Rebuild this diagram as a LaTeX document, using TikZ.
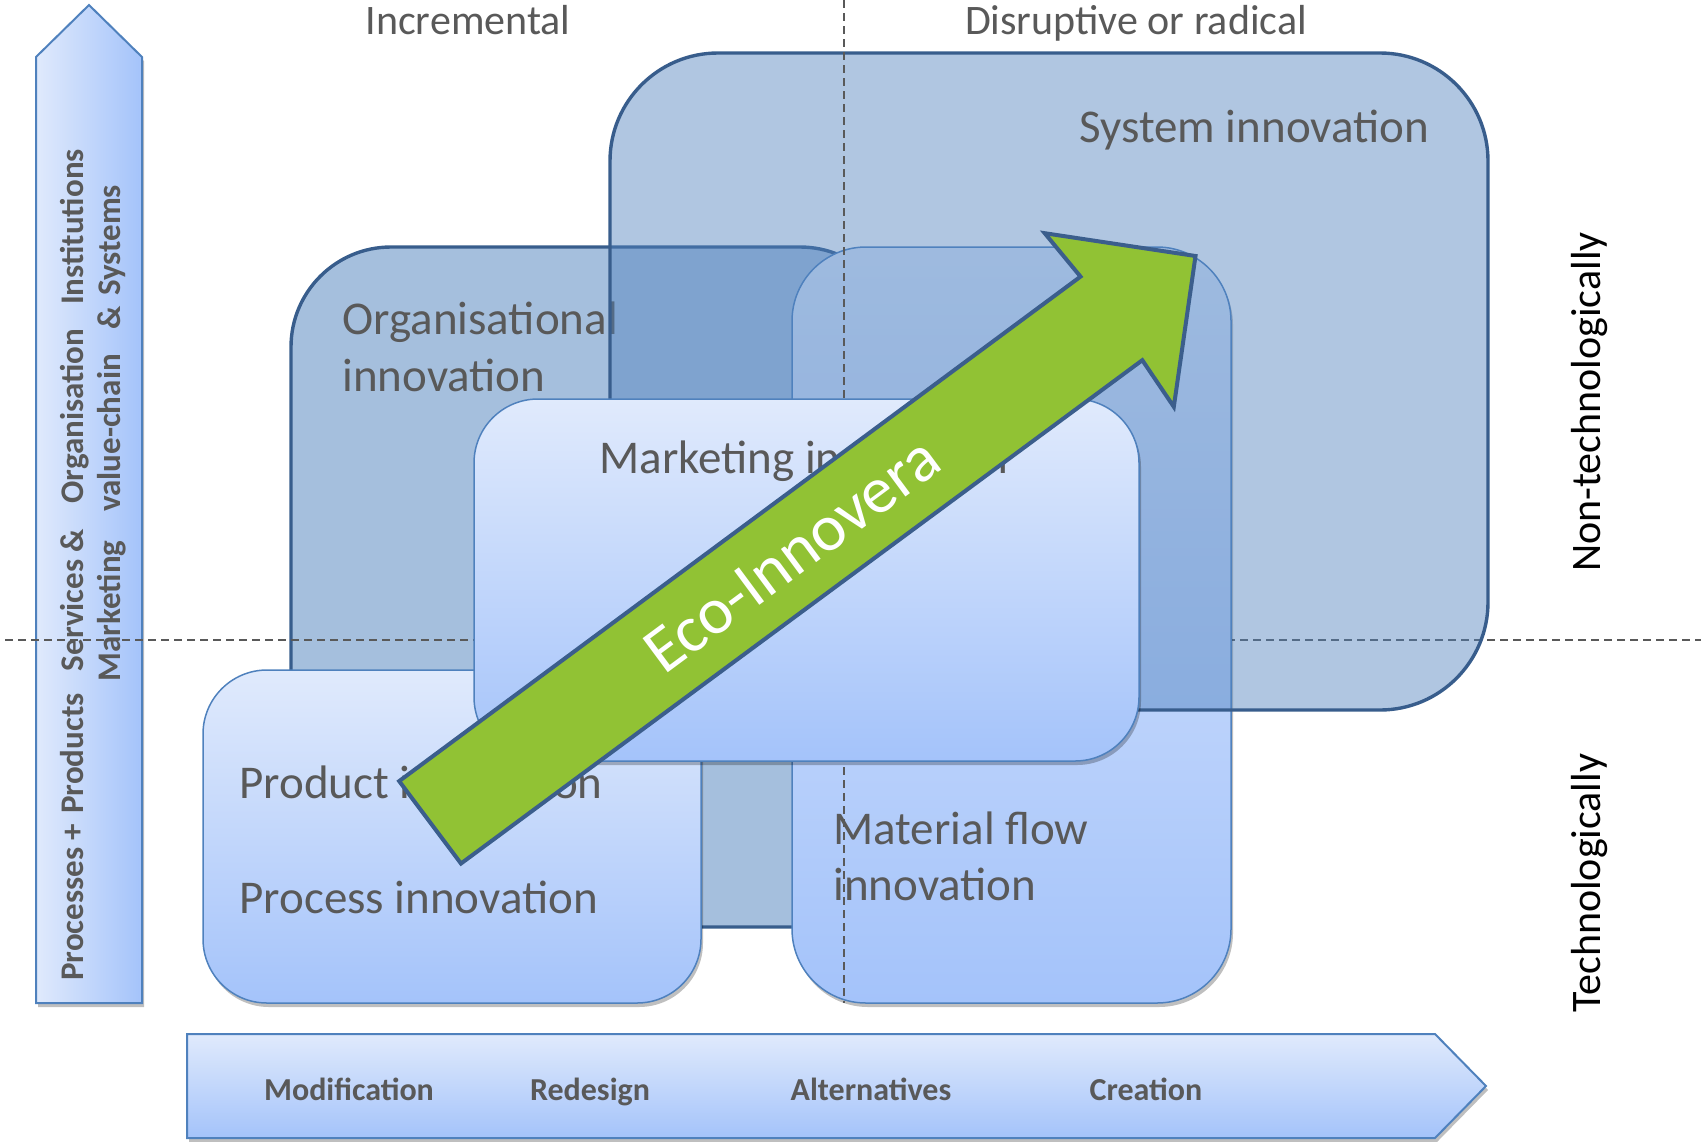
\documentclass[tikz,border=0pt]{standalone}
\usepackage{fontspec}
\setmainfont{Carlito}
\usetikzlibrary{shadows}
\definecolor{txtgray}{RGB}{89,89,89}
\definecolor{steel}{RGB}{79,129,189}
\definecolor{darkline}{RGB}{56,93,140}
\definecolor{gtop}{RGB}{224,234,252}
\definecolor{gbot}{RGB}{164,195,250}
\definecolor{ecogreen}{RGB}{145,194,52}
\definecolor{ecoline}{RGB}{59,94,140}
\tikzset{
  boxtext/.style={text=txtgray, font=\fontsize{23.5}{28}\selectfont, inner sep=0pt, anchor=base west},
  headtext/.style={text=txtgray, font=\fontsize{21}{25}\selectfont, inner sep=0pt, anchor=base},
  sidetext/.style={text=black, font=\fontsize{21}{25}\selectfont, inner sep=0pt, anchor=base, rotate=90},
  axistext/.style={text=txtgray, font=\bfseries\fontsize{16.5}{20}\selectfont, inner sep=0pt, anchor=base, rotate=90},
  steptext/.style={text=txtgray, font=\bfseries\fontsize{16}{19}\selectfont, inner sep=0pt, anchor=base},
  bigbox/.style={draw=darkline, line width=1.7pt, fill=steel},
  lightbox/.style={draw=steel, line width=0.75pt, top color=gtop, bottom color=gbot},
  guide/.style={draw=txtgray, line width=0.8pt, dash pattern=on 4pt off 2.5pt},
  softshadow/.style={drop shadow={shadow xshift=1pt, shadow yshift=-2pt, opacity=0.25, fill=black}},
}
\begin{document}
\begin{tikzpicture}[x=0.5pt,y=-0.5pt]
\useasboundingbox (0,0) rectangle (1701,1141);
% left vertical arrow
\draw[draw=steel, line width=1pt, left color=gtop, right color=gbot, softshadow]
  (36,1003) -- (36,57) -- (89,5) -- (142,57) -- (142,1003) -- cycle;
\node[axistext] (pp) at (83,837) {Processes +\hspace{0.3em}Products};
\node[axistext] (ss) at (83,600) {Services \&};
\node[axistext] (og) at (83,416) {Organisation};
\node[axistext] (in) at (83,227) {Institutions};
\node[axistext] (mk) at (120,611) {Marketing};
\node[axistext] (vc) at (120,433) {value-chain};
\node[axistext] (sy) at (120,257) {\&\hspace{0.3em}Systems};
% bottom arrow
\draw[draw=steel, line width=1pt, top color=gtop, bottom color=gbot, softshadow]
  (187,1034) -- (1435,1034) -- (1486,1086) -- (1435,1138) -- (187,1138) -- cycle;
\node[steptext] (mod) at (349,1100) {Modification};
\node[steptext] (red) at (590,1100) {Redesign};
\node[steptext] (alt) at (871,1100) {Alternatives};
\node[steptext] (cre) at (1146,1100) {Creation};
% organisational box
\draw[bigbox, fill opacity=0.51, rounded corners=50pt] (291,247) rectangle (900,927);
\node[boxtext] (org1) at (342,334) {Organisational};
\node[boxtext] (org2) at (342,391) {innovation};
% horizontal guide
\coordinate (hl) at (5,640);
\coordinate (hr) at (1701,640);
\draw[guide] (hl) -- (hr);
% material flow box
\draw[lightbox, softshadow, rounded corners=37pt] (792,247) rectangle (1231,1003);
\node[boxtext] (mat1) at (833,844) {Material flow};
\node[boxtext] (mat2) at (833,900) {innovation};
% system box
\draw[bigbox, fill opacity=0.45, rounded corners=54pt] (610,53) rectangle (1488,710);
\node[boxtext] (sys) at (1079,142) {System innovation};
% vertical guide
\coordinate (vt) at (844,0);
\coordinate (vb) at (844,1003);
\draw[guide] (vt) -- (vb);
% product / process box
\draw[lightbox, softshadow, rounded corners=32pt] (203,670) rectangle (701,1003);
\node[boxtext] (prod) at (239,798) {Product innovation};
\node[boxtext] (proc) at (239,913) {Process innovation};
% marketing box
\draw[lightbox, softshadow, rounded corners=32pt] (474,399) rectangle (1139,761);
\node[boxtext] (mkt) at (599,473) {Marketing innovation};
% headings
\node[headtext] (incr) at (468,34.5) {Incremental};
\node[headtext] (disr) at (1136,34.5) {Disruptive or radical};
\node[sidetext] (nontech) at (1600,402) {Non-technologically};
\node[sidetext] (tech) at (1600,883) {Technologically};
% eco arrow
\draw[fill=ecogreen, draw=ecoline, line width=2pt, line join=miter]
  (399.2,781.1) -- (1080.5,276.6) -- (1044.7,233.2) -- (1195.5,256.0)
  -- (1173.8,406.8) -- (1142.3,360.2) -- (461.0,863.5) -- cycle;
\node[text=white, font=\fontsize{33}{40}\selectfont, inner sep=0pt, rotate=36.52] (eco) at (792,555) {Eco-Innovera};
\end{tikzpicture}
\end{document}
